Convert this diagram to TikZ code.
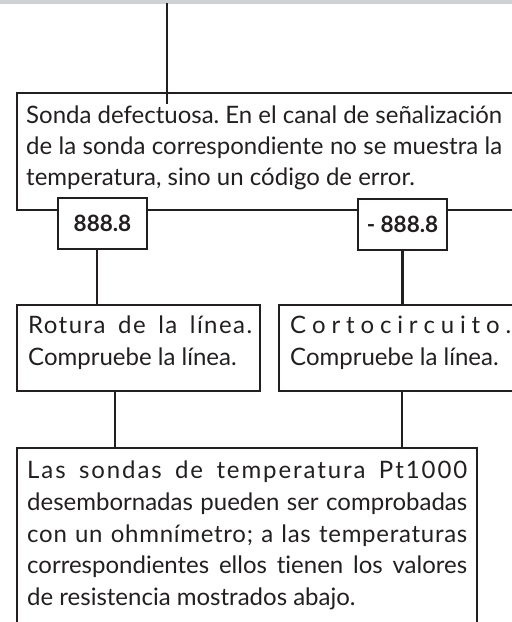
\documentclass[tikz,border=0pt]{standalone}
\usepackage{fontspec}
\setmainfont{Lato}[Ligatures=NoCommon]
\definecolor{ink}{RGB}{35,31,32}
\definecolor{barcol}{RGB}{208,209,211}
\newcommand{\jl}[2]{\makebox[#1pt][s]{#2}}
\newcommand{\lsp}[1]{\addfontfeature{LetterSpace=#1}}
\frenchspacing
\begin{document}
\begin{tikzpicture}[x=1pt,y=-1pt,
  box/.style={draw=ink, line width=2.5pt, fill=white, rectangle, inner sep=0pt, outer sep=0pt, anchor=north west},
  codebox/.style={box, minimum width=89pt, minimum height=51pt, font=\fontsize{22.5}{25}\selectfont\bfseries, text=ink},
  conn/.style={draw=ink, line width=2.5pt},
  txt/.style={anchor=base west, inner sep=0pt, font=\fontsize{24}{31}\selectfont, text=ink}]
\useasboundingbox (0,0) rectangle (512,622);
\clip (0,0) rectangle (512,622);
\fill[barcol] (0,0) rectangle (512,4);

% main box
\node[box, minimum width=503pt, minimum height=117pt] (big) at (17,93) {};
\coordinate (src) at (167,3);
\coordinate (srcend) at (167,104);
\draw[conn] (src) -- (srcend);
\node[txt] (t1) at (26,123) {\jl{476}{Sonda defectuosa. En el canal de señalización}};
\node[txt] (t2) at (26,154) {\jl{476}{de la sonda correspondiente no se muestra la}};
\node[txt] (t3) at (26,185) {temperatura, sino un código de error.};

% code boxes
\node[codebox] (c1) at (58,198) {888.8};
\node[codebox] (c2) at (358,199) {- 888.8};

% result boxes
\node[box, minimum width=243pt, minimum height=86pt] (r1) at (17,305) {};
\node[box, minimum width=240pt, minimum height=86pt] (r2) at (279,305) {};
\node[txt] (r1a) at (28,333) {\lsp{6}\jl{224}{Rotura de la línea.}};
\node[txt] (r1b) at (28,365) {Compruebe la línea.};
\node[txt] (r2a) at (290,333) {\makebox[221pt]{C\hfill o\hfill r\hfill t\hfill o\hfill c\hfill i\hfill r\hfill c\hfill u\hfill i\hfill t\hfill o\hfill .}};
\node[txt] (r2b) at (290,365) {Compruebe la línea.};

% bottom box
\node[box, minimum width=460pt, minimum height=200pt] (b) at (17,448) {};
\node[txt] (b1) at (27,478) {\lsp{8}\jl{440}{Las sondas de temperatura Pt1000}};
\node[txt] (b2) at (27,510) {\jl{440}{desembornadas pueden ser comprobadas}};
\node[txt] (b3) at (27,542) {\lsp{3}\jl{440}{con un ohmnímetro; a las temperaturas}};
\node[txt] (b4) at (27,573) {\jl{440}{correspondientes ellos tienen los valores}};
\node[txt] (b5) at (27,605) {de resistencia mostrados abajo.};

% connectors
\draw[conn] ([xshift=39pt]c1.south west) -- ([xshift=39pt]c1.south west |- r1.north);
\draw[conn] (c2.south) -- (c2.south |- r2.north);
\draw[conn] ([xshift=98pt]r1.south west) -- ([xshift=98pt]r1.south west |- b.north);
\draw[conn] ([xshift=123pt]r2.south west) -- ([xshift=123pt]r2.south west |- b.north);
\end{tikzpicture}
\end{document}
